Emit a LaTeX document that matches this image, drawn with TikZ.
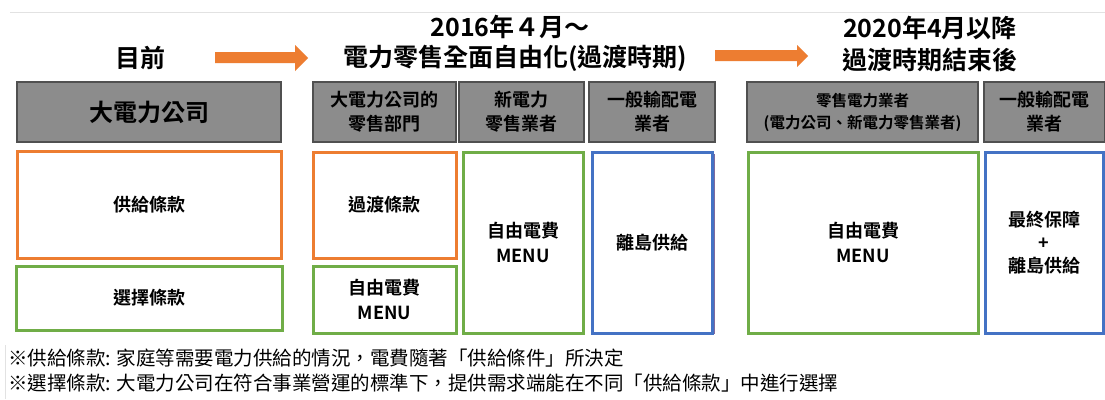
\documentclass[tikz,border=0pt]{standalone}
\usepackage{fontspec}
\setmainfont{Noto Sans CJK TC}[BoldFont={Noto Sans CJK TC Bold}]
\definecolor{orng}{HTML}{ED7D31}
\definecolor{grn}{HTML}{70AD47}
\definecolor{blu}{HTML}{4472C4}
\definecolor{gfill}{HTML}{8C8C8C}
\definecolor{gline}{HTML}{505050}
\definecolor{faint}{HTML}{E2E2E2}
\definecolor{purp}{HTML}{7F6A9E}
\begin{document}
\begin{tikzpicture}[x=1pt,y=-1pt,
  hdr/.style={font=\fontsize{25}{31}\selectfont\bfseries, align=center, inner sep=0pt},
  gbox/.style={draw=gline, line width=1.4pt, fill=gfill, align=center, inner sep=0pt,
     font=\fontsize{18}{24}\selectfont\bfseries, minimum height=60pt},
  cbox/.style={line width=3pt, fill=white, align=center, inner sep=0pt,
     font=\fontsize{18}{25}\selectfont\bfseries},
  obox/.style={cbox, draw=orng},
  gnbox/.style={cbox, draw=grn},
  bbox/.style={cbox, draw=blu},
  note/.style={font=\fontsize{19.5}{25}\selectfont, anchor=west, inner sep=0pt},
  barrow/.style={fill=orng, draw=none}]
\useasboundingbox (0,0) rectangle (1105,399);
\fill[white] (0,0) rectangle (1105,399);
\draw[faint, line width=1pt] (10,12) -- (1105,12);
\draw[faint, line width=1pt] (5,345) -- (5,399);

% headings
\node[hdr] (now) at (140,58) {目前};
\node[hdr] (p2a) at (510,27) {2016年４月～};
\node[hdr] (p2b) at (515,58) {電力零售全面自由化(過渡時期)};
\node[hdr] (p3a) at (930,28) {2020年4月以降};
\node[hdr] (p3b) at (930,60) {過渡時期結束後};

% block arrows
\fill[barrow] (215,52) -- (295,52) -- (295,45) -- (308,58) -- (295,71) -- (295,63) -- (215,63) -- cycle;
\fill[barrow] (715,50) -- (797,50) -- (797,45) -- (808,56) -- (797,67) -- (797,61) -- (715,61) -- cycle;

% gray header boxes
\node[gbox, minimum width=264pt, font=\fontsize{24}{30}\selectfont\bfseries] (ha) at (149,112) {大電力公司};
\node[gbox, minimum width=143pt] (hb) at (384.5,112) {大電力公司的\\零售部門};
\node[gbox, minimum width=125pt] (hc) at (521.5,112) {新電力\\零售業者};
\node[gbox, minimum width=126pt] (hd) at (652,112) {一般輸配電\\業者};
\node[gbox, minimum width=231pt, font=\fontsize{15.5}{22}\selectfont\bfseries] (he) at (862.5,112) {零售電力業者\\(電力公司、新電力零售業者)};
\node[gbox, minimum width=121pt] (hf) at (1044.5,112) {一般輸配電\\業者};

% coloured boxes
\node[obox, minimum width=264pt, minimum height=107pt] (o1) at (149,204.5) {供給條款};
\node[gnbox, minimum width=266pt, minimum height=64pt] (g1) at (149,298) {選擇條款};
\node[obox, minimum width=143pt, minimum height=106pt] (o2) at (384.5,205) {過渡條款};
\node[gnbox, minimum width=143pt, minimum height=67pt] (g2) at (384.5,299.5) {自由電費\\MENU};
\node[gnbox, minimum width=120pt, minimum height=181pt] (g3) at (523,242.5) {自由電費\\MENU};
\draw[purp, line width=2pt] (714,154) -- (714,334);
\node[bbox, minimum width=120pt, minimum height=181pt] (b1) at (652,242.5) {離島供給};
\node[gnbox, minimum width=230pt, minimum height=181pt] (g4) at (863,242.5) {自由電費\\MENU};
\node[bbox, minimum width=118pt, minimum height=181pt, font=\fontsize{18}{23}\selectfont\bfseries] (b2) at (1044,242.5) {最終保障\\+\\離島供給};

% notes
\node[note] (n1) at (8,358) {※供給條款: 家庭等需要電力供給的情況，電費隨著「供給條件」所決定};
\node[note] (n2) at (8,383) {※選擇條款: 大電力公司在符合事業營運的標準下，提供需求端能在不同「供給條款」中進行選擇};
\end{tikzpicture}
\end{document}
